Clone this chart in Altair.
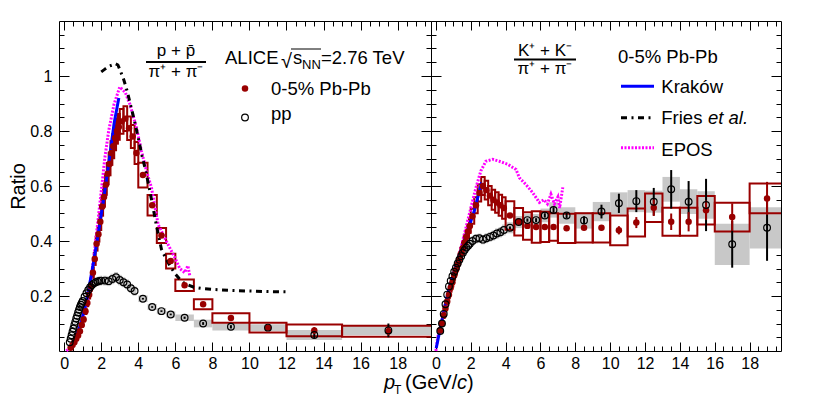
import altair as alt
import pandas as pd

FONT = "Liberation Sans"
RED = "#990000"
BLUE = "#0000ff"
MAGENTA = "#ff00ff"
GRAY = "#c8c8c8"

# ===================== p/pi  (left panel) =====================
ppi_pbpb_pt = [0.35, 0.45, 0.55, 0.65, 0.75, 0.85, 0.95, 1.05, 1.15, 1.25, 1.35, 1.45, 1.55, 1.65,
               1.75, 1.85, 1.95, 2.05, 2.15, 2.25, 2.35, 2.45, 2.55, 2.65, 2.75, 2.85, 2.95,
               3.1, 3.3, 3.5, 3.7, 3.9,
               4.25, 4.75, 5.25, 5.75, 6.5, 7.5, 9.0, 11.0, 13.5, 17.5]
ppi_pbpb_w = [0.1, 0.1, 0.1, 0.1, 0.1, 0.1, 0.1, 0.1, 0.1, 0.1, 0.1, 0.1, 0.1, 0.1,
              0.1, 0.1, 0.1, 0.1, 0.1, 0.1, 0.1, 0.1, 0.1, 0.1, 0.1, 0.1, 0.1,
              0.2, 0.2, 0.2, 0.2, 0.2,
              0.5, 0.5, 0.5, 0.5, 1.0, 1.0, 2.0, 2.0, 3.0, 5.0]
ppi_pbpb_r = [0.012, 0.022, 0.032, 0.045, 0.056, 0.072, 0.095, 0.115, 0.145, 0.175, 0.205, 0.235, 0.285, 0.335,
              0.39, 0.425, 0.47, 0.525, 0.56, 0.605, 0.645, 0.68, 0.72, 0.745, 0.775, 0.80, 0.815,
              0.835, 0.845, 0.81, 0.78, 0.72,
              0.64, 0.53, 0.42, 0.327, 0.239, 0.17, 0.12, 0.085, 0.075, 0.072]
ppi_pbpb_sys = [0.003, 0.003, 0.004, 0.004, 0.005, 0.006, 0.007, 0.008, 0.010, 0.012, 0.014, 0.016, 0.019, 0.022,
                0.025, 0.027, 0.030, 0.033, 0.035, 0.037, 0.039, 0.041, 0.043, 0.044, 0.045, 0.046, 0.047,
                0.045, 0.045, 0.043, 0.042, 0.040,
                0.045, 0.037, 0.027, 0.027, 0.021, 0.018, 0.017, 0.018, 0.021, 0.020]
ppi_pbpb_stat = [0.004, 0.004, 0.004, 0.004, 0.005, 0.005, 0.007, 0.009, 0.012, 0.015]  # last 10 bins

ppi_pp_pt = [0.30, 0.35, 0.40, 0.45, 0.50, 0.55, 0.60, 0.65, 0.70, 0.75, 0.80, 0.85, 0.90, 0.95, 1.00,
             1.1, 1.2, 1.3, 1.4, 1.5, 1.6, 1.7, 1.8, 1.9, 2.0,
             2.2, 2.4, 2.6, 2.8, 3.0, 3.2, 3.4, 3.6, 3.8,
             4.25, 4.75, 5.25, 5.75, 6.5, 7.5, 9.0, 11.0, 13.5, 17.5]
ppi_pp_w = [0.05, 0.05, 0.05, 0.05, 0.05, 0.05, 0.05, 0.05, 0.05, 0.05, 0.05, 0.05, 0.05, 0.05, 0.05,
            0.1, 0.1, 0.1, 0.1, 0.1, 0.1, 0.1, 0.1, 0.1, 0.1,
            0.2, 0.2, 0.2, 0.2, 0.2, 0.2, 0.2, 0.2, 0.2,
            0.5, 0.5, 0.5, 0.5, 1.0, 1.0, 2.0, 2.0, 3.0, 5.0]
ppi_pp_r = [0.032, 0.045, 0.057, 0.070, 0.082, 0.095, 0.106, 0.118, 0.128, 0.140, 0.150, 0.160, 0.168, 0.175, 0.182,
            0.197, 0.210, 0.222, 0.232, 0.240, 0.246, 0.250, 0.253, 0.255, 0.256,
            0.256, 0.254, 0.262, 0.268, 0.258, 0.250, 0.242, 0.228, 0.218,
            0.190, 0.160, 0.145, 0.133, 0.121, 0.100, 0.088, 0.085, 0.058, 0.075]
ppi_pp_sys = [0.003, 0.004, 0.005, 0.006, 0.007, 0.008, 0.008, 0.009, 0.010, 0.010, 0.011, 0.011, 0.012, 0.012, 0.013,
              0.014, 0.014, 0.015, 0.016, 0.016, 0.017, 0.017, 0.017, 0.018, 0.018,
              0.018, 0.018, 0.019, 0.019, 0.019, 0.018, 0.018, 0.017, 0.017,
              0.012, 0.011, 0.011, 0.011, 0.012, 0.014, 0.013, 0.012, 0.018, 0.017]
ppi_pp_stat = [0.003, 0.003, 0.003, 0.003, 0.004, 0.005, 0.006, 0.008, 0.012, 0.025]  # last 10 bins

ppi_krakow_pt = [0.3, 0.6, 0.9, 1.2, 1.5, 1.8, 2.1, 2.4, 2.7, 2.95]
ppi_krakow_r = [0.005, 0.04, 0.10, 0.18, 0.29, 0.41, 0.54, 0.68, 0.83, 0.92]

ppi_fries_pt = [2.0, 2.2, 2.4, 2.6, 2.75, 2.9, 3.0, 3.2, 3.4, 3.6, 3.8, 4.0, 4.2, 4.4, 4.6, 4.8, 5.0,
                5.25, 5.5, 5.75, 6.0, 6.25, 6.5, 7.0, 7.5, 8.0, 9.0, 10.0, 11.0, 12.0]
ppi_fries_r = [1.015, 1.025, 1.035, 1.04, 1.045, 1.04, 1.024, 0.99, 0.945, 0.89, 0.835, 0.775, 0.71, 0.655,
               0.59, 0.52, 0.45, 0.37, 0.335, 0.305, 0.28, 0.26, 0.245, 0.232, 0.227, 0.224, 0.22, 0.218,
               0.216, 0.215]

ppi_epos_pt = [0.12, 0.5, 0.9, 1.1, 1.35, 1.6, 1.8, 2.0, 2.19, 2.4, 2.69, 3.0, 3.3, 3.55, 3.91, 4.17,
               4.44, 4.71, 4.89, 5.07, 5.6, 5.97, 6.24, 6.5, 6.68, 6.78]
ppi_epos_r = [0.0, 0.03, 0.10, 0.15, 0.218, 0.34, 0.46, 0.58, 0.70, 0.80, 0.897, 0.96, 0.94, 0.897, 0.81,
              0.727, 0.655, 0.594, 0.527, 0.46, 0.388, 0.34, 0.30, 0.285, 0.31, 0.273]

# ===================== K/pi  (right panel) =====================
kpi_pbpb_pt = [0.25, 0.35, 0.45, 0.55, 0.65, 0.75, 0.85, 0.95, 1.05, 1.15, 1.25, 1.35, 1.45, 1.55,
               1.65, 1.75, 1.85, 1.95,
               2.1, 2.3, 2.5, 2.7, 2.9, 3.1, 3.3, 3.5, 3.7, 3.9,
               4.25, 4.75, 5.25, 5.75, 6.25, 6.75, 7.5, 8.5, 9.5, 10.5, 11.5, 12.5, 13.5, 14.5, 15.5,
               17.0, 19.0]
kpi_w = [0.1, 0.1, 0.1, 0.1, 0.1, 0.1, 0.1, 0.1, 0.1, 0.1, 0.1, 0.1, 0.1, 0.1,
         0.1, 0.1, 0.1, 0.1,
         0.2, 0.2, 0.2, 0.2, 0.2, 0.2, 0.2, 0.2, 0.2, 0.2,
         0.5, 0.5, 0.5, 0.5, 0.5, 0.5, 1.0, 1.0, 1.0, 1.0, 1.0, 1.0, 1.0, 1.0, 1.0,
         2.0, 2.0]
kpi_pbpb_r = [0.075, 0.10, 0.13, 0.155, 0.18, 0.205, 0.23, 0.25, 0.275, 0.295, 0.315, 0.335, 0.355, 0.375,
              0.395, 0.415, 0.435, 0.455,
              0.49, 0.53, 0.575, 0.60, 0.585, 0.565, 0.55, 0.54, 0.53, 0.52,
              0.493, 0.47, 0.455, 0.451, 0.451, 0.451, 0.446, 0.448, 0.448, 0.439, 0.467, 0.521, 0.47,
              0.47, 0.512, 0.487, 0.555]
kpi_pbpb_sys = [0.008, 0.009, 0.010, 0.011, 0.012, 0.013, 0.014, 0.015, 0.016, 0.017, 0.018, 0.019, 0.020, 0.021,
                0.022, 0.023, 0.024, 0.025,
                0.027, 0.029, 0.031, 0.033, 0.034, 0.035, 0.036, 0.037, 0.038, 0.039,
                0.052, 0.050, 0.050, 0.057, 0.055, 0.050, 0.053, 0.053, 0.053, 0.054, 0.051, 0.052, 0.051,
                0.051, 0.052, 0.052, 0.054]
kpi_pbpb_stat = [0.005, 0.005, 0.005, 0.005, 0.005, 0.005, 0.006, 0.008, 0.010, 0.015, 0.020, 0.030, 0.030,
                 0.035, 0.035, 0.050, 0.060]  # last 17 bins

kpi_pp_r = [0.073, 0.10, 0.135, 0.17, 0.205, 0.235, 0.255, 0.272, 0.288, 0.303, 0.318, 0.332, 0.345, 0.357,
            0.367, 0.376, 0.383, 0.39,
            0.40, 0.408, 0.41, 0.405, 0.41, 0.415, 0.42, 0.427, 0.432, 0.44,
            0.448, 0.469, 0.476, 0.476, 0.493, 0.513, 0.493, 0.475, 0.507, 0.537, 0.545, 0.543, 0.588,
            0.543, 0.531, 0.388, 0.448]
kpi_pp_sys = [0.005, 0.006, 0.007, 0.008, 0.009, 0.010, 0.011, 0.012, 0.012, 0.013, 0.013, 0.014, 0.014, 0.015,
              0.015, 0.016, 0.016, 0.016,
              0.017, 0.017, 0.017, 0.017, 0.018, 0.018, 0.018, 0.019, 0.019, 0.020,
              0.020, 0.022, 0.022, 0.022, 0.025, 0.028, 0.030, 0.030, 0.035, 0.040, 0.040, 0.040, 0.045,
              0.045, 0.050, 0.075, 0.075]
kpi_pp_stat = [0.005, 0.006, 0.006, 0.007, 0.008, 0.010, 0.010, 0.015, 0.025, 0.035, 0.040, 0.050, 0.070,
               0.075, 0.095, 0.085, 0.120]  # last 17 bins

kpi_krakow_pt = [0.02, 0.3, 0.67, 1.06, 1.44, 1.82, 2.2, 2.49, 2.6, 2.78, 2.93]
kpi_krakow_r = [0.01, 0.097, 0.206, 0.29, 0.364, 0.436, 0.509, 0.58, 0.606, 0.594, 0.576]

kpi_epos_pt = [0.0, 0.1, 0.48, 0.86, 1.25, 1.63, 2.01, 2.3, 2.58, 2.87, 3.26, 3.64, 4.12, 4.6, 4.79,
               5.17, 5.55, 5.94, 6.2, 6.4, 6.6, 6.8, 7.0, 7.1, 7.28]
kpi_epos_r = [0.0, 0.048, 0.145, 0.242, 0.327, 0.424, 0.521, 0.594, 0.655, 0.69, 0.697, 0.69, 0.679,
              0.66, 0.63, 0.605, 0.576, 0.54, 0.55, 0.535, 0.57, 0.535, 0.56, 0.52, 0.595]

# ===================== axes / layout =====================
XMAJ = [0, 2, 4, 6, 8, 10, 12, 14, 16, 18]
XMIN = [0.5 * i for i in range(0, 40) if i % 4 != 0]
YLAB = [0.2, 0.4, 0.6, 0.8, 1.0]
YMIN = [round(0.05 * i, 2) for i in range(1, 24) if i % 4 != 0]
X_DOMAIN = [-0.28, 19.8]
Y_DOMAIN = [0, 1.2]
H = 330
W_LEFT = 372
W_RIGHT = 350


def xs():
    return alt.Scale(domain=X_DOMAIN, nice=False, zero=False)


def ys():
    return alt.Scale(domain=Y_DOMAIN, nice=False, zero=False)


def X(f):
    return alt.X(f"{f}:Q", scale=xs(), axis=None)


def Y(f):
    return alt.Y(f"{f}:Q", scale=ys(), axis=None)


def box_table(pt, r, w, s):
    return pd.DataFrame({
        "x0": [p - ww / 2 for p, ww in zip(pt, w)],
        "x1": [p + ww / 2 for p, ww in zip(pt, w)],
        "y0": [a - e for a, e in zip(r, s)],
        "y1": [a + e for a, e in zip(r, s)],
    })


def err_table(pt, r, stat):
    n = len(stat)
    return pd.DataFrame({
        "pt": pt[-n:],
        "y0": [a - e for a, e in zip(r[-n:], stat)],
        "y1": [a + e for a, e in zip(r[-n:], stat)],
    })


def curve(pt, r, color, dash=None):
    kw = dict(color=color, strokeWidth=3)
    if dash:
        kw["strokeDash"] = dash
    return alt.Chart(pd.DataFrame({"pt": pt, "r": r})).mark_line(**kw).encode(x=X("pt"), y=Y("r"))


ONE = pd.DataFrame({"k": [0]})


def label(s, x, y, size=18.5, align="left", style="normal", color="black"):
    return alt.Chart(ONE).mark_text(text=s, font=FONT, fontSize=size, fontStyle=style, align=align,
                                    baseline="alphabetic", color=color).encode(
        x=alt.value(x), y=alt.value(y))


def hline(x0, x1, y, color="black", width=1.5, dash=None):
    kw = dict(color=color, strokeWidth=width)
    if dash:
        kw["strokeDash"] = dash
    return alt.Chart(ONE).mark_rule(**kw).encode(x=alt.value(x0), x2=alt.value(x1), y=alt.value(y))


def marker(x, y, filled):
    if filled:
        m = alt.Chart(ONE).mark_circle(color=RED, size=42, opacity=1)
    else:
        m = alt.Chart(ONE).mark_point(shape="circle", filled=False, color="black", size=45,
                                      strokeWidth=1.2, opacity=1)
    return m.encode(x=alt.value(x), y=alt.value(y))


def tick_axis(orient, values, size):
    return alt.Axis(orient=orient, values=values, tickSize=size, offset=-size, labels=False,
                    domain=False, grid=False, title=None, ticks=True, tickColor="black", tickWidth=1)


XLAB_AXIS = alt.Axis(orient="bottom", values=XMAJ, format="d", labelFont=FONT, labelFontSize=16,
                     labelColor="black", labelPadding=4, labelFlush=False, labelOverlap=False,
                     ticks=False, domain=False, grid=False, title=None)
YLAB_AXIS = alt.Axis(orient="left", values=YLAB, format="~g", labelFont=FONT, labelFontSize=16,
                     labelColor="black", labelPadding=7, labelFlush=False, labelOverlap=False,
                     ticks=False, domain=False, grid=False, title="Ratio", titleFont=FONT,
                     titleFontSize=20, titleFontWeight="normal", titleColor="black", titlePadding=1)

DUMMY = pd.DataFrame({"ax": [5.0], "ay": [0.5]})


def axis_layer(xa, ya):
    return alt.Chart(DUMMY).mark_point(opacity=0).encode(
        x=alt.X("ax:Q", scale=xs(), axis=xa), y=alt.Y("ay:Q", scale=ys(), axis=ya))


def panel(width, pb_pt, pb_r, pb_w, pb_sys, pb_stat, pp_pt, pp_r, pp_w, pp_sys, pp_stat, curves, extra,
          first):
    pb_box = box_table(pb_pt, pb_r, pb_w, pb_sys)
    pp_box = box_table(pp_pt, pp_r, pp_w, pp_sys)
    pb_err = err_table(pb_pt, pb_r, pb_stat)
    pp_err = err_table(pp_pt, pp_r, pp_stat)
    pb_pts = pd.DataFrame({"pt": pb_pt, "r": pb_r})
    pp_pts = pd.DataFrame({"pt": pp_pt, "r": pp_r})
    data_layers = [
        alt.Chart(pp_box).mark_rect(color=GRAY, clip=True).encode(
            x=X("x0"), x2=alt.X2("x1"), y=Y("y0"), y2=alt.Y2("y1")),
        alt.Chart(pb_box).mark_rect(fillOpacity=0, stroke=RED, strokeWidth=2, clip=True).encode(
            x=X("x0"), x2=alt.X2("x1"), y=Y("y0"), y2=alt.Y2("y1")),
    ] + curves + [
        alt.Chart(pp_err).mark_rule(color="black", strokeWidth=2).encode(
            x=X("pt"), y=Y("y0"), y2=alt.Y2("y1")),
        alt.Chart(pb_err).mark_rule(color=RED, strokeWidth=2).encode(
            x=X("pt"), y=Y("y0"), y2=alt.Y2("y1")),
        alt.Chart(pb_pts).mark_circle(color=RED, size=42, opacity=1).encode(x=X("pt"), y=Y("r")),
        alt.Chart(pp_pts).mark_point(shape="circle", filled=False, color="black", size=45,
                                     strokeWidth=1.2, opacity=1).encode(x=X("pt"), y=Y("r")),
    ]
    ax_layers = [
        axis_layer(XLAB_AXIS, YLAB_AXIS if first else None),
        axis_layer(tick_axis("bottom", XMAJ, 9), tick_axis("left", YLAB, 10)),
        axis_layer(tick_axis("bottom", XMIN, 5), tick_axis("left", YMIN, 5)),
        axis_layer(tick_axis("top", XMAJ, 9), tick_axis("right", YLAB, 10)),
        axis_layer(tick_axis("top", XMIN, 5), tick_axis("right", YMIN, 5)),
    ]
    return alt.layer(*ax_layers, *data_layers, *extra).resolve_axis(
        x="independent", y="independent").properties(width=width, height=H)


FRIES_DASH = [6, 4.5, 2, 4.5]
EPOS_DASH = [2, 1.5]

left_curves = [
    curve(ppi_epos_pt, ppi_epos_r, MAGENTA, EPOS_DASH),
    curve(ppi_fries_pt, ppi_fries_r, "black", FRIES_DASH),
    curve(ppi_krakow_pt, ppi_krakow_r, BLUE),
]
left_text = [
    label("p + p\u0304", 117, 35, size=17, align="center"),
    hline(87, 147, 41, width=2),
    label("\u03c0\u207a + \u03c0\u207b", 117, 56, size=17, align="center"),
    label("ALICE", 166, 43),
    label("\u221a", 222, 47, size=20),
    hline(232, 262, 28, width=1),
    label("s", 234, 43),
    label("NN", 243, 48, size=13),
    label("=2.76 TeV", 262, 43),
    marker(186, 67.5, True),
    label("0-5% Pb-Pb", 212, 73.5),
    marker(186, 96.5, False),
    label("pp", 212, 98.5),
    label("p", 325, 368, size=20, style="italic"),
    label("T", 335, 373, size=12),
    label("(GeV/", 346, 368, size=20),
    label("c", 398, 368, size=20, style="italic"),
    label(")", 408, 368, size=20),
]

right_curves = [
    curve(kpi_epos_pt, kpi_epos_r, MAGENTA, EPOS_DASH),
    curve(kpi_krakow_pt, kpi_krakow_r, BLUE),
]
right_text = [
    label("K\u207a + K\u207b", 114, 35, size=17, align="center"),
    hline(83, 145, 38.5, width=2),
    label("\u03c0\u207a + \u03c0\u207b", 114, 53, size=17, align="center"),
    label("0-5% Pb-Pb", 187, 41.7),
    hline(190, 223, 65.3, BLUE, 3),
    label("Krak\u00f3w", 230.3, 71.7),
    hline(190, 223, 96.7, "black", 3, FRIES_DASH),
    label("Fries", 230.3, 103.3),
    label("et al.", 277, 103.3, style="italic"),
    hline(190, 223, 126.7, MAGENTA, 3, EPOS_DASH),
    label("EPOS", 230.3, 135),
]

left = panel(W_LEFT, ppi_pbpb_pt, ppi_pbpb_r, ppi_pbpb_w, ppi_pbpb_sys, ppi_pbpb_stat,
             ppi_pp_pt, ppi_pp_r, ppi_pp_w, ppi_pp_sys, ppi_pp_stat, left_curves, left_text, True)
right = panel(W_RIGHT, kpi_pbpb_pt, kpi_pbpb_r, kpi_w, kpi_pbpb_sys, kpi_pbpb_stat,
              kpi_pbpb_pt, kpi_pp_r, kpi_w, kpi_pp_sys, kpi_pp_stat, right_curves, right_text, False)

chart = alt.hconcat(left, right, spacing=0, bounds="flush").properties(
    padding={"left": 0, "top": 12, "right": 5, "bottom": 5}
).configure_view(stroke="black", strokeWidth=1)

chart.save("out.html", embed_options={"renderer": "svg", "actions": False})
